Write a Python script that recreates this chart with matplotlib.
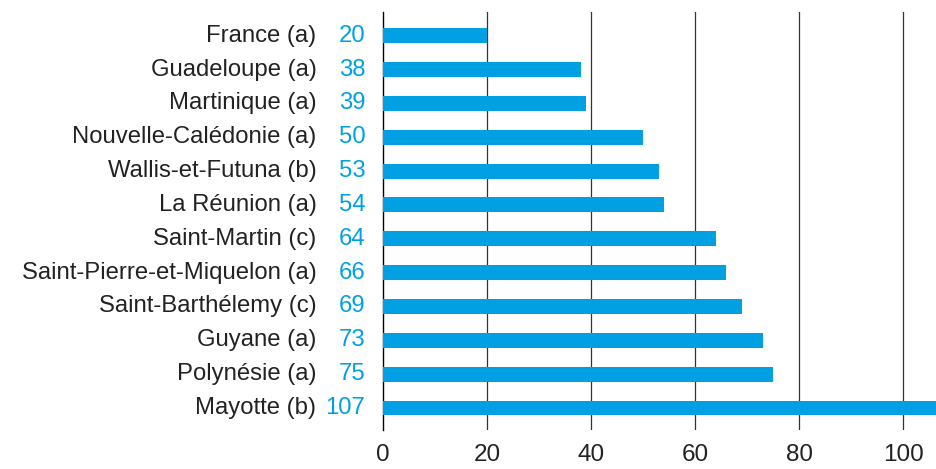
import numpy as np
import matplotlib
matplotlib.use("Agg")
import matplotlib.pyplot as plt

plt.rcParams['font.family'] = ['Liberation Sans', 'DejaVu Sans']

territories = ["France (a)", "Guadeloupe (a)", "Martinique (a)", "Nouvelle-Calédonie (a)",
               "Wallis-et-Futuna (b)", "La Réunion (a)", "Saint-Martin (c)",
               "Saint-Pierre-et-Miquelon (a)", "Saint-Barthélemy (c)", "Guyane (a)",
               "Polynésie (a)", "Mayotte (b)"]
values = [20, 38, 39, 50, 53, 54, 64, 66, 69, 73, 75, 107]
ticks = [0, 20, 40, 60, 80, 100]

blue = "#00a0e2"

fig = plt.figure(figsize=(9.37, 4.69), dpi=100)
ax = fig.add_axes([383 / 937, 39 / 469, 554 / 937, 418 / 469])

y = np.arange(len(values))
ax.barh(y, values, height=0.44, color=blue, zorder=3)
ax.set_ylim(len(values) - 0.35, -0.7)
ax.set_xlim(0, 106.5)

for t in ticks[1:]:
    ax.axvline(t, color="#333333", lw=0.9, zorder=1)

for s in ["top", "right", "bottom"]:
    ax.spines[s].set_visible(False)
ax.spines["left"].set_color("black")
ax.spines["left"].set_linewidth(1.0)

ax.set_xticks(ticks)
ax.set_xticklabels([str(t) for t in ticks], fontsize=17.5, color="#222222")
ax.tick_params(axis="x", length=0, pad=10)
ax.set_yticks([])

for i, (name, v) in enumerate(zip(territories, values)):
    ax.text(-12.8, i, name, ha="right", va="center", fontsize=17.2, color="#222222")
    ax.text(-3.4, i, str(v), ha="right", va="center", fontsize=17.2, color=blue)

fig.savefig("out.png", dpi=100)
